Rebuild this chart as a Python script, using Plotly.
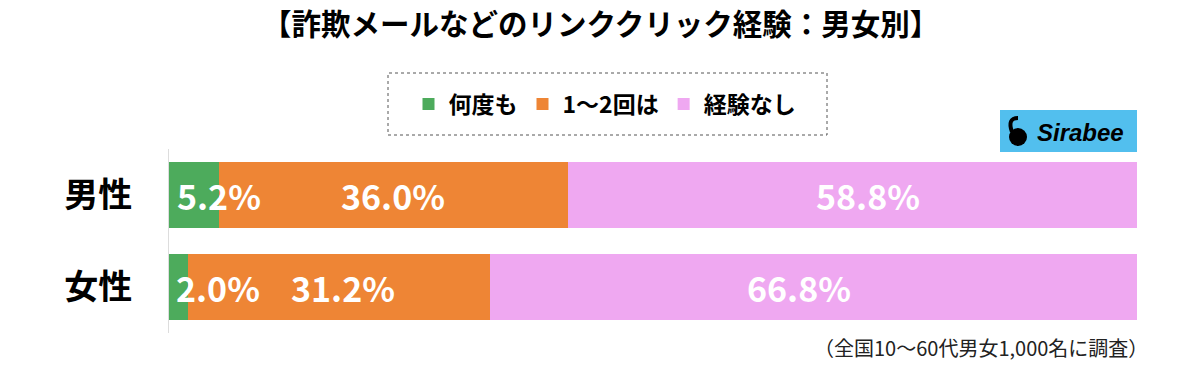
import plotly.graph_objects as go

categories = ["男性", "女性"]
series_names = ["何度も", "1〜2回は", "経験なし"]
many_times = [5.2, 2.0]
once_twice = [36.0, 31.2]
never = [58.8, 66.8]
series_values = [many_times, once_twice, never]
colors = ["#4DAB5C", "#EE8535", "#EFA8F1"]

# label x-positions (centre of text, in % units) per series/category
label_x = [[5.2, 5.1], [23.1, 18.0], [72.2, 65.1]]

FONT = "Noto Sans CJK JP"
W, H = 1200, 366
L, R, T, B = 169, 1137, 149, 333  # plot area in pixels


def px(x):
    return (x - L) / (R - L)


def py(y):
    return (B - y) / (B - T)


fig = go.Figure()
for name, vals, col in zip(series_names, series_values, colors):
    fig.add_trace(go.Bar(
        y=categories, x=vals, name=name, orientation="h",
        marker=dict(color=col, line=dict(width=0)),
        hoverinfo="x+name",
    ))

for vals, xs in zip(series_values, label_x):
    for cat, v, lx in zip(categories, vals, xs):
        fig.add_annotation(
            x=lx, y=cat, xref="x", yref="y", text=f"{v:.1f}%",
            showarrow=False, font=dict(family=FONT, size=34, color="white", weight="bold"),
            xanchor="center", yanchor="middle",
        )

fig.update_layout(
    width=W, height=H,
    margin=dict(l=L, r=W - R, t=T, b=H - B),
    paper_bgcolor="white", plot_bgcolor="white",
    barmode="stack", bargap=0.283,
    showlegend=True,
    legend=dict(orientation="h", traceorder="normal",
                x=px(605), xanchor="center", xref="paper",
                y=py(104), yanchor="middle", yref="paper",
                font=dict(family=FONT, size=23, color="black", weight="bold"),
                bgcolor="rgba(0,0,0,0)", borderwidth=0,
                itemclick=False, itemdoubleclick=False),
    xaxis=dict(range=[0, 100], visible=False, fixedrange=True),
    yaxis=dict(categoryorder="array", categoryarray=categories, autorange="reversed",
               showline=True, linecolor="#dddddd", linewidth=1, ticks="",
               tickfont=dict(family=FONT, size=34, color="black", weight="bold"),
               ticklabelstandoff=29, fixedrange=True),
)

# title
fig.add_annotation(x=px(600), y=py(22), xref="paper", yref="paper", xanchor="center", yanchor="middle",
                   text="【詐欺メールなどのリンククリック経験：男女別】", showarrow=False,
                   font=dict(family=FONT, size=29.5, color="black", weight="bold"))
# footnote
fig.add_annotation(x=px(1150), y=py(347), xref="paper", yref="paper", xanchor="right", yanchor="middle",
                   text="（全国10〜60代男女1,000名に調査）", showarrow=False,
                   font=dict(family=FONT, size=20, color="#222222"))
# legend dotted frame
fig.add_shape(type="rect", xref="paper", yref="paper",
              x0=px(388), x1=px(827), y0=py(135), y1=py(73),
              line=dict(color="#555555", width=1, dash="dot"), fillcolor="rgba(0,0,0,0)")
# Sirabee logo
fig.add_shape(type="rect", xref="paper", yref="paper",
              x0=px(1000), x1=px(1137), y0=py(152), y1=py(110),
              line=dict(width=0), fillcolor="#52BFEE")
fig.add_shape(type="circle", xref="paper", yref="paper",
              x0=px(1009), x1=px(1027), y0=py(146), y1=py(128),
              line=dict(width=0), fillcolor="black")
fig.add_shape(type="path", xref="paper", yref="paper",
              path="M {} {} Q {} {} {} {}".format(px(1012), py(132), px(1007), py(118), px(1018), py(118)),
              line=dict(color="black", width=4))
fig.add_annotation(x=px(1080), y=py(132), xref="paper", yref="paper", xanchor="center", yanchor="middle",
                   text="<b><i>Sirabee</i></b>", showarrow=False,
                   font=dict(family="Liberation Sans", size=24, color="black"))

fig.write_html("out.html", config={"displayModeBar": False},
               post_script="document.body.style.margin='0';")
